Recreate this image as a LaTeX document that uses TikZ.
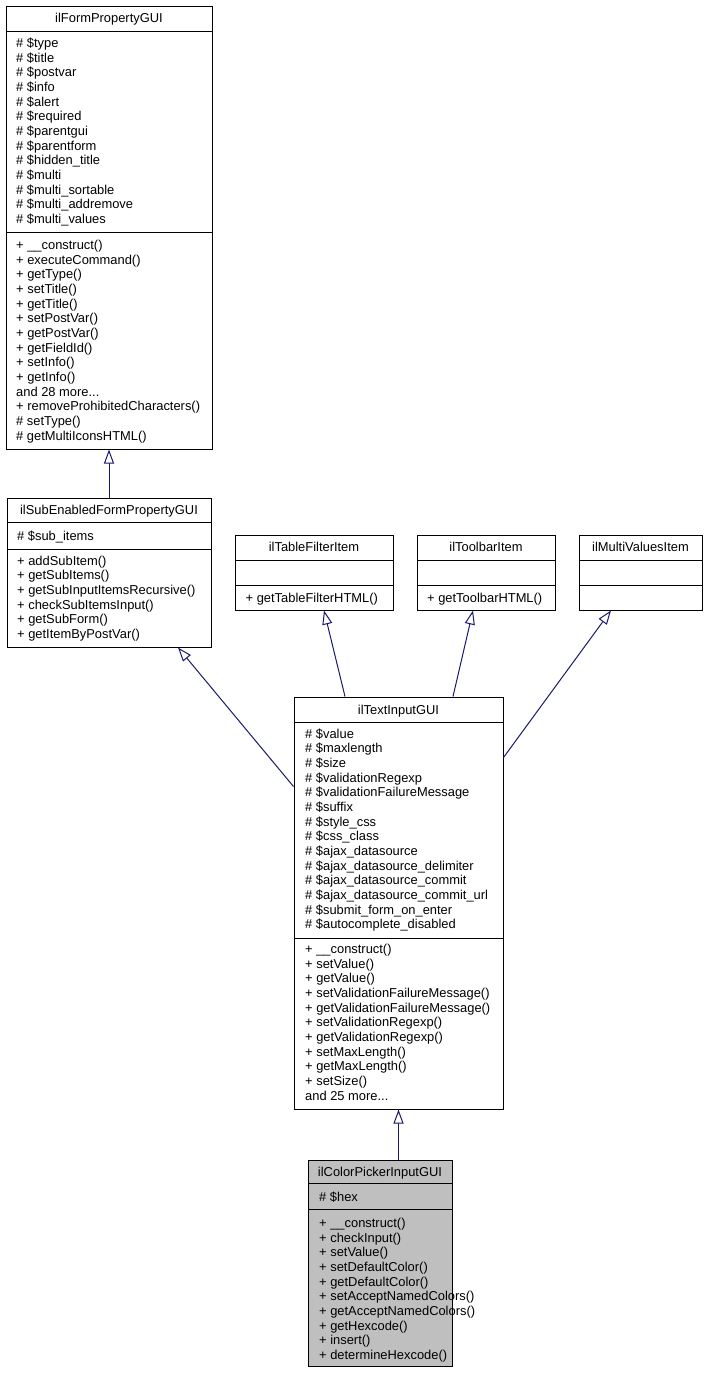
\documentclass[tikz,border=0pt]{standalone}
\usepackage{fontspec}
\setmainfont{Liberation Sans}
\usetikzlibrary{arrows.meta}
\definecolor{edgeblue}{HTML}{191970}
\definecolor{boxgray}{HTML}{BFBFBF}
\newcommand\mdots{...}
\tikzset{
  umlbox/.style={draw=black, line width=1pt, inner sep=0pt, fill=white},
  sepline/.style={draw=black, line width=1pt},
  txt/.style={anchor=base west, inner sep=0pt, font=\fontsize{12.9}{14.67}\selectfont},
  ttl/.style={anchor=base, inner sep=0pt, font=\fontsize{12.9}{14.67}\selectfont},
  inh/.style={draw=edgeblue, line width=1pt, -{Triangle[length=14pt, width=10pt, fill=white]}}
}
\newcommand\rowlist[4]{%
  \foreach \t [count=\i from 0] in {#3}
    \node[txt] (#4-\i) at (#1, {#2+\i*14.67+4.5}) {\t};}
\begin{document}
\begin{tikzpicture}[x=1pt,y=-1pt]
\fill[white] (0,0) rectangle (707,1373);
\useasboundingbox (0,0) rectangle (707,1373);

% ilFormPropertyGUI
\node[umlbox, minimum width=206pt, minimum height=443pt] (A) at (109,227.5) {};
\draw[sepline] (6,31) -- (212,31);
\draw[sepline] (6,232) -- (212,232);
\node[ttl] (A-t) at (109,23) {ilFormPropertyGUI};
\rowlist{16}{43}{\# \$type,\# \$title,\# \$postvar,\# \$info,\# \$alert,\# \$required,\# \$parentgui,\# \$parentform,\# \$hidden\_title,\# \$multi,\# \$multi\_sortable,\# \$multi\_addremove,\# \$multi\_values}{Aa}
\rowlist{16}{245}{+ \_\_construct(),+ executeCommand(),+ getType(),+ setTitle(),+ getTitle(),+ setPostVar(),+ getPostVar(),+ getFieldId(),+ setInfo(),+ getInfo(),and 28 more\mdots,+ removeProhibitedCharacters(),\# setType(),\# getMultiIconsHTML()}{Am}

% ilSubEnabledFormPropertyGUI
\node[umlbox, minimum width=204pt, minimum height=149pt] (B) at (109,572.5) {};
\draw[sepline] (7,522) -- (211,522);
\draw[sepline] (7,549) -- (211,549);
\node[ttl] (B-t) at (109,514.5) {ilSubEnabledFormPropertyGUI};
\rowlist{17}{535.5}{\# \$sub\_items}{Ba}
\rowlist{17}{560.5}{+ addSubItem(),+ getSubItems(),+ getSubInputItemsRecursive(),+ checkSubItemsInput(),+ getSubForm(),+ getItemByPostVar()}{Bm}

% ilTableFilterItem
\node[umlbox, minimum width=158pt, minimum height=75pt] (C) at (314,572.5) {};
\draw[sepline] (235,560) -- (393,560);
\draw[sepline] (235,585) -- (393,585);
\node[ttl] (C-t) at (314,551.5) {ilTableFilterItem};
\rowlist{245.5}{597.5}{+ getTableFilterHTML()}{Cm}

% ilToolbarItem
\node[umlbox, minimum width=138pt, minimum height=75pt] (D) at (486,572.5) {};
\draw[sepline] (417,560) -- (555,560);
\draw[sepline] (417,585) -- (555,585);
\node[ttl] (D-t) at (486,551.5) {ilToolbarItem};
\rowlist{427}{597.5}{+ getToolbarHTML()}{Dm}

% ilMultiValuesItem
\node[umlbox, minimum width=123pt, minimum height=75pt] (E) at (640.5,572.5) {};
\draw[sepline] (579,560) -- (702,560);
\draw[sepline] (579,585) -- (702,585);
\node[ttl] (E-t) at (640.5,551.5) {ilMultiValuesItem};

% ilTextInputGUI
\node[umlbox, minimum width=209pt, minimum height=412pt] (F) at (398.5,903) {};
\draw[sepline] (294,722) -- (503,722);
\draw[sepline] (294,938) -- (503,938);
\node[ttl] (F-t) at (398.5,714) {ilTextInputGUI};
\rowlist{305}{733.5}{\# \$value,\# \$maxlength,\# \$size,\# \$validationRegexp,\# \$validationFailureMessage,\# \$suffix,\# \$style\_css,\# \$css\_class,\# \$ajax\_datasource,\# \$ajax\_datasource\_delimiter,\# \$ajax\_datasource\_commit,\# \$ajax\_datasource\_commit\_url,\# \$submit\_form\_on\_enter,\# \$autocomplete\_disabled}{Fa}
\rowlist{305}{949}{+ \_\_construct(),+ setValue(),+ getValue(),+ setValidationFailureMessage(),+ getValidationFailureMessage(),+ setValidationRegexp(),+ getValidationRegexp(),+ setMaxLength(),+ getMaxLength(),+ setSize(),and 25 more\mdots}{Fm}

% ilColorPickerInputGUI
\node[umlbox, fill=boxgray, minimum width=144pt, minimum height=206pt] (G) at (380,1263) {};
\draw[sepline] (308,1183) -- (452,1183);
\draw[sepline] (308,1209) -- (452,1209);
\node[ttl] (G-t) at (380,1176) {ilColorPickerInputGUI};
\rowlist{319}{1197}{\# \$hex}{Ga}
\rowlist{319}{1223}{+ \_\_construct(),+ checkInput(),+ setValue(),+ setDefaultColor(),+ getDefaultColor(),+ setAcceptNamedColors(),+ getAcceptNamedColors(),+ getHexcode(),+ insert(),+ determineHexcode()}{Gm}

% inheritance connectors
\draw[inh] (B.north) -- (A.south);
\draw[inh] ([yshift=-90pt]F.north west) -- ([xshift=69pt]B.south);
\draw[inh] ([xshift=-53.5pt]F.north) -- ([xshift=10pt]C.south);
\draw[inh] ([xshift=54.5pt]F.north) -- ([xshift=-13pt]D.south);
\draw[inh] ([yshift=-61pt]F.north east) -- ([xshift=-29.5pt]E.south);
\draw[inh] ([xshift=18.5pt]G.north) -- (F.south);
\end{tikzpicture}
\end{document}
